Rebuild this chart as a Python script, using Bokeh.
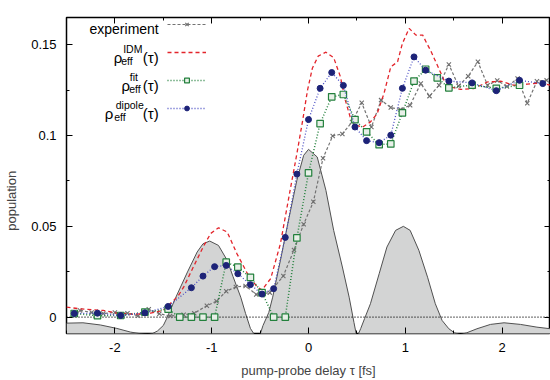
import math
from bokeh.plotting import figure
from bokeh.models import (Range1d, FixedTicker, LinearAxis, Legend, LegendItem, Label,
                          Span, CustomJSTickFormatter)
from bokeh.embed import file_html
from bokeh.resources import INLINE

# ---------------- data ----------------
x_ticks = [-2, -1, 0, 1, 2]
x_minor = [-2.5, -1.5, -0.5, 0.5, 1.5, 2.5]
y_ticks = [0, 0.05, 0.1, 0.15]
y_minor = [0.025, 0.075, 0.125]

# pump pulse (grey filled shape)
pulse_x = [-2.50, -2.33, -2.15, -1.98, -1.84, -1.74, -1.66, -1.61, -1.56, -1.50, -1.46, -1.37,
           -1.25, -1.15, -1.09, -1.02, -0.93, -0.84, -0.78, -0.70, -0.65, -0.60, -0.56, -0.53,
           -0.50, -0.47, -0.41, -0.37, -0.29, -0.20, -0.12, -0.05, 0.00, 0.09, 0.18, 0.26,
           0.35, 0.42, 0.47, 0.50, 0.54, 0.58, 0.64, 0.73, 0.81, 0.90, 0.98, 1.05, 1.14,
           1.23, 1.31, 1.38, 1.45, 1.51, 1.57, 1.63, 1.74, 1.88, 2.02, 2.19, 2.36, 2.50]
pulse_y = [-0.0033, -0.0031, -0.0043, -0.0062, -0.0082, -0.0091, -0.0094, -0.0090, -0.0076,
           -0.0046, -0.0002, 0.0110, 0.0249, 0.0359, 0.0404, 0.0419, 0.0395, 0.0313, 0.0224,
           0.0110, 0.0020, -0.0062, -0.0095, -0.0112, -0.0095, -0.0046, 0.0026, 0.0110, 0.0313,
           0.0551, 0.0754, 0.0891, 0.0924, 0.0882, 0.0698, 0.0478, 0.0276, 0.0110, -0.0030,
           -0.0112, -0.0062, -0.0007, 0.0074, 0.0239, 0.0386, 0.0478, 0.0500, 0.0478, 0.0368,
           0.0220, 0.0074, -0.0018, -0.0064, -0.0087, -0.0095, -0.0087, -0.0064, -0.0040,
           -0.0031, -0.0040, -0.0055, -0.0064]
pulse_base = -0.012

# experiment
exp_x = [-2.36, -2.24, -2.12, -2.00, -1.87, -1.76, -1.65, -1.54, -1.43, -1.29, -1.18, -1.05,
         -0.95, -0.85, -0.75, -0.65, -0.54, -0.40, -0.26, -0.15, -0.05, 0.05, 0.15, 0.25, 0.35,
         0.45, 0.55, 0.65, 0.75, 0.85, 0.95, 1.05, 1.16, 1.25, 1.35, 1.45, 1.55, 1.65, 1.75,
         1.85, 1.95, 2.05, 2.16, 2.26, 2.36, 2.46]
exp_y = [0.0037, 0.0026, 0.0020, 0.0026, 0.0022, 0.0008, 0.0044, 0.0019, 0.0006, 0.0013,
         0.0022, 0.0063, 0.0088, 0.0143, 0.0166, 0.0172, 0.0125, 0.0135, 0.0227, 0.0370,
         0.0512, 0.0635, 0.0875, 0.0998, 0.1009, 0.1075, 0.1180, 0.1047, 0.1195, 0.1154,
         0.1143, 0.1167, 0.1287, 0.1217, 0.1277, 0.1391, 0.1273, 0.1327, 0.1406, 0.1277,
         0.1303, 0.1270, 0.1314, 0.1178, 0.1299, 0.1305]

# rho_eff^IDM (continuous curve)
idm_x = [-2.50, -2.36, -2.12, -1.98, -1.79, -1.63, -1.50, -1.43, -1.35, -1.29, -1.19, -1.08,
         -1.01, -0.93, -0.84, -0.74, -0.63, -0.53, -0.48, -0.39, -0.29, -0.19, -0.12, -0.06,
         -0.01, 0.04, 0.10, 0.18, 0.26, 0.33, 0.38, 0.43, 0.49, 0.56, 0.64, 0.71, 0.78, 0.85,
         0.92, 0.97, 1.04, 1.11, 1.18, 1.22, 1.26, 1.33, 1.40, 1.47, 1.57, 1.71, 1.85, 1.99,
         2.12, 2.26, 2.40, 2.50]
idm_y = [0.0055, 0.0046, 0.0037, 0.0022, 0.0016, 0.0022, 0.0037, 0.0074, 0.0114, 0.0165,
         0.0276, 0.0395, 0.0461, 0.0492, 0.0469, 0.0350, 0.0239, 0.0165, 0.0150, 0.0213,
         0.0405, 0.0698, 0.0900, 0.1084, 0.1250, 0.1371, 0.1437, 0.1459, 0.1429, 0.1323,
         0.1195, 0.1103, 0.1057, 0.1047, 0.1075, 0.1121, 0.1232, 0.1378, 0.1406, 0.1507,
         0.1590, 0.1553, 0.1553, 0.1510, 0.1470, 0.1388, 0.1305, 0.1268, 0.1254, 0.1259,
         0.1295, 0.1299, 0.1277, 0.1283, 0.1290, 0.1277]

# rho_eff^fit
fit_x = [-2.42, -2.18, -1.94, -1.69, -1.45, -1.33, -1.21, -1.09, -0.97, -0.85, -0.73, -0.60,
         -0.48, -0.36, -0.24, -0.12, 0.00, 0.12, 0.24, 0.36, 0.48, 0.60, 0.73, 0.85, 0.97,
         1.09, 1.21, 1.33, 1.45, 1.69, 1.94, 2.18]
fit_y = [0.0020, 0.0008, 0.0009, 0.0028, 0.0044, 0.0, 0.0, 0.0, 0.0, 0.0303, 0.0276, 0.0219,
         0.0135, 0.0, 0.0, 0.0436, 0.0794, 0.1066, 0.1213, 0.1226, 0.1088, 0.1020, 0.0950,
         0.0954, 0.1125, 0.1300, 0.1365, 0.1318, 0.1263, 0.1278, 0.1260, 0.1277]

# rho_eff^dipole
dip_x = [-2.42, -2.18, -1.94, -1.69, -1.45, -1.21, -1.09, -0.97, -0.85, -0.73, -0.60, -0.48,
         -0.36, -0.24, -0.12, 0.00, 0.12, 0.24, 0.36, 0.48, 0.60, 0.73, 0.85, 0.97, 1.09,
         1.21, 1.45, 1.69, 1.94, 2.18, 2.42]
dip_y = [0.0020, 0.0022, 0.0009, 0.0024, 0.0059, 0.0162, 0.0226, 0.0278, 0.0285, 0.0239,
         0.0179, 0.0127, 0.0157, 0.0439, 0.0788, 0.1088, 0.1260, 0.1347, 0.1276, 0.1047,
         0.0972, 0.0961, 0.1002, 0.1260, 0.1433, 0.1360, 0.1300, 0.1290, 0.1247, 0.1304,
         0.1286]

# ---------------- figure ----------------
FONT = "Liberation Sans"
p = figure(width=550, height=380, x_range=Range1d(-2.5, 2.5), y_range=Range1d(-0.009, 0.165),
           output_backend="svg", toolbar_location=None,
           min_border_left=66, min_border_right=0, min_border_top=17, min_border_bottom=47)
p.grid.visible = False
p.outline_line_color = "black"
p.outline_line_width = 1.5
p.background_fill_color = "white"
p.border_fill_color = "white"

fmt = CustomJSTickFormatter(code="return tick.toString();")

def style_axis(ax, ticks, minor, labels=True):
    ax.ticker = FixedTicker(ticks=ticks, minor_ticks=minor)
    ax.major_tick_in = 6
    ax.major_tick_out = 0
    ax.minor_tick_in = 3
    ax.minor_tick_out = 0
    ax.major_tick_line_color = "black"
    ax.minor_tick_line_color = "black"
    ax.axis_line_color = None
    if labels:
        ax.formatter = fmt
        ax.major_label_text_font = FONT
        ax.major_label_text_font_size = "13px"
        ax.major_label_text_color = "black"
    else:
        ax.major_label_text_font_size = "0px"
        ax.major_label_text_color = None
        ax.major_label_standoff = 0

style_axis(p.xaxis[0], x_ticks, x_minor)
p.xaxis[0].major_label_standoff = 9
p.xaxis[0].axis_label = "pump-probe delay τ [fs]"
p.xaxis[0].axis_label_standoff = 8
p.xaxis[0].axis_label_text_font = FONT
p.xaxis[0].axis_label_text_font_size = "13px"
p.xaxis[0].axis_label_text_font_style = "normal"

style_axis(p.yaxis[0], y_ticks, y_minor)
p.yaxis[0].major_label_standoff = 10
# trailing no-break spaces shift the centred title down to where the reference has it
p.yaxis[0].axis_label = "population" + "\u00a0" * 14
p.yaxis[0].axis_label_standoff = 9
p.yaxis[0].axis_label_text_font = FONT
p.yaxis[0].axis_label_text_font_size = "13px"
p.yaxis[0].axis_label_text_font_style = "normal"

top_ax = LinearAxis()
style_axis(top_ax, x_ticks, x_minor, labels=False)
p.add_layout(top_ax, "above")
right_ax = LinearAxis()
style_axis(right_ax, y_ticks, y_minor, labels=False)
p.add_layout(right_ax, "right")

# grey pulse
fill_r = p.varea(x=pulse_x, y1=pulse_base, y2=pulse_y, fill_color="#d3d4d4", level="image")
edge_r = p.line(pulse_x, pulse_y, line_color="#505050", line_width=1, level="image")
zero = Span(location=0, dimension="width", line_color="black", line_dash="1 2",
            line_width=1.2, level="underlay")
p.add_layout(zero)

# experiment
exp_l = p.line(exp_x, exp_y, line_color="#737373", line_dash="3 2", line_width=1.2)
exp_m = p.scatter(exp_x, exp_y, marker="x", size=6, line_color="#6e6e6e", line_width=1.1)
# IDM
idm_l = p.line(idm_x, idm_y, line_color="#e3242b", line_dash="4 3", line_width=1.3)
# fit
fit_l = p.line(fit_x, fit_y, line_color="#23803c", line_dash="1 2", line_width=1.5)
fit_m = p.scatter(fit_x, fit_y, marker="square", size=6.5, line_color="#23803c",
                  fill_color="#e8f0e8", line_width=1.2)
# dipole
dip_l = p.line(dip_x, dip_y, line_color="#4b4fc4", line_dash="1 2", line_width=1.3)
dip_m = p.scatter(dip_x, dip_y, marker="circle", size=6, line_color="#1d2378",
                  fill_color="#1d2378")

legend = Legend(items=[LegendItem(label="", renderers=[exp_l, exp_m]),
                       LegendItem(label="", renderers=[idm_l]),
                       LegendItem(label="", renderers=[fit_l, fit_m]),
                       LegendItem(label="", renderers=[dip_l, dip_m])],
                location=(100.7, 219.3), padding=0, margin=0, spacing=16,
                glyph_width=39, glyph_height=12, label_height=12, label_width=1,
                label_standoff=0, border_line_color=None, background_fill_alpha=0)
p.add_layout(legend)

# legend texts
LX = -1.547
rows = [0.1614, 0.1459, 0.1305, 0.1151]

def lab(text, y, xo, yo, size, align="left"):
    p.add_layout(Label(x=LX, y=y, text=text, x_offset=xo, y_offset=yo, text_align=align,
                       text_baseline="alphabetic", text_font=FONT, text_font_size=size,
                       text_font_style="normal", text_color="black"))

lab("experiment", rows[0], 0, -4.5, "14px", "right")
for (y, sup, rho_x, sub_x, sup_x) in [(rows[1], "IDM", -45, -37.5, -35.6),
                                       (rows[2], "fit", -37.3, -29.5, -29.0),
                                       (rows[3], "dipole", -54, -44.5, -43.0)]:
    lab("(τ)", y, 0, -5.5, "15px", "right")
    lab("ρ", y, rho_x, -5.5, "15px")
    lab("eff", y, sub_x, -9, "10.5px")
    lab(sup, y, sup_x, 3.5, "10.5px")

open("out.html", "w").write(file_html(p, INLINE))
